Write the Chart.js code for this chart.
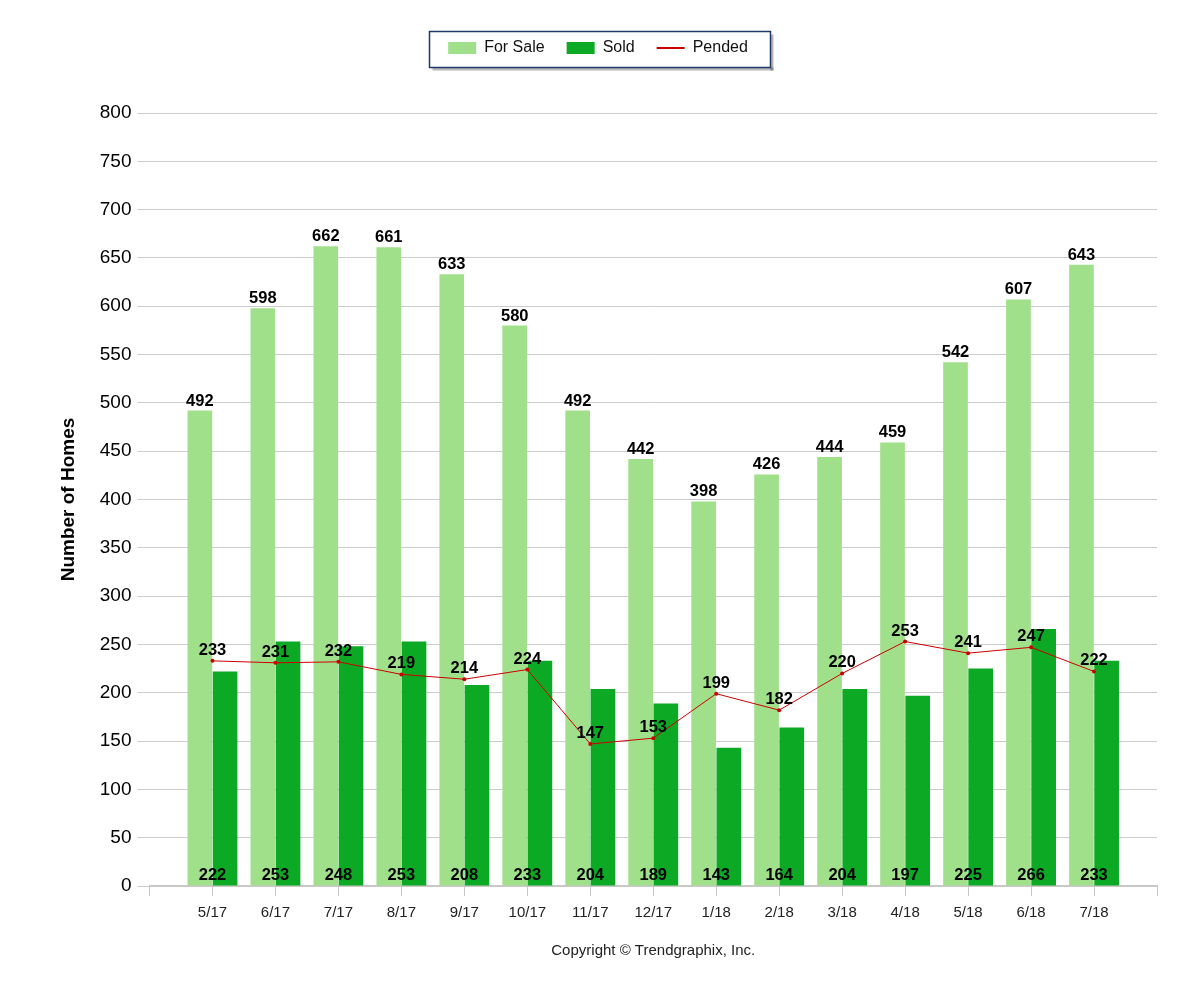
<!DOCTYPE html>
<html>
<head>
<meta charset="utf-8">
<script src="https://cdn.jsdelivr.net/npm/chart.js@4.4.0/dist/chart.umd.min.js"></script>
<style>
  html, body { margin: 0; background: #fff; }
  #contenedor { width: 1200px; height: 1000px; }
</style>
</head>
<body>
<div id="contenedor"><canvas id="grafico-homes" width="1200" height="1000"></canvas></div>
<script>
// datos
const meses      = ["5/17", "6/17", "7/17", "8/17", "9/17", "10/17", "11/17", "12/17", "1/18", "2/18", "3/18", "4/18", "5/18", "6/18", "7/18"];
const enVenta    = [492, 598, 662, 661, 633, 580, 492, 442, 398, 426, 444, 459, 542, 607, 643];
const vendidas   = [222, 253, 248, 253, 208, 233, 204, 189, 143, 164, 204, 197, 225, 266, 233];
const pendientes = [233, 231, 232, 219, 214, 224, 147, 153, 199, 182, 220, 253, 241, 247, 222];
const ejeY       = { min: 0, max: 800, paso: 50 };

const FUENTE = '"Liberation Sans", Arial, sans-serif';
Chart.defaults.font.family = FUENTE;

// hueco vacio al inicio y al final del eje (como en el original)
const rellenar = arr => [null, ...arr, null];

// valores encima de barras y puntos
const etiquetasValores = {
  id: "etiquetasValores",
  afterDatasetsDraw(chart) {
    const ctx = chart.ctx;
    const x   = chart.scales.x;
    ctx.save();
    ctx.font = `bold 16.5px ${FUENTE}`;
    ctx.fillStyle = "#000";
    ctx.textAlign = "center";
    ctx.textBaseline = "alphabetic";
    chart.data.datasets.forEach((ds, i) => {
      const meta = chart.getDatasetMeta(i);
      meta.data.forEach((el, j) => {
        const v = ds.data[j];
        if (v === null || v === undefined) return;
        if (ds.label === "Sold")      ctx.fillText(v, x.getPixelForValue(j), el.base - 6);
        else if (ds.type === "line")  ctx.fillText(v, el.x, el.y - 6);
        else                          ctx.fillText(v, el.x, el.y - 5);
      });
    });
    ctx.restore();
  }
};

// marco con sombra alrededor de la leyenda (y leyenda un poco a la izquierda)
const marcoLeyenda = {
  id: "marcoLeyenda",
  afterLayout(chart) {
    chart.legend.left  -= 9;
    chart.legend.right -= 9;
  },
  afterDraw(chart) {
    const cajas = chart.legend && chart.legend.legendHitBoxes;
    if (!cajas || !cajas.length) return;
    const ult = cajas[cajas.length - 1];
    const x0 = Math.round(cajas[0].left - 19) + 0.5;
    const x1 = Math.round(ult.left + ult.width + 22) + 0.5;
    const y0 = Math.round(cajas[0].top - 9) + 0.5;
    const y1 = Math.round(cajas[0].top + cajas[0].height + 11) + 0.5;
    const ctx = chart.ctx;
    ctx.save();
    ctx.fillStyle = "rgba(0,0,0,0.28)";
    ctx.fillRect(x1, y0 + 3, 3, y1 - y0);
    ctx.fillRect(x0 + 3, y1, x1 - x0, 3);
    ctx.strokeStyle = "#1f3a68";
    ctx.lineWidth = 1.5;
    ctx.strokeRect(x0, y0, x1 - x0, y1 - y0);
    ctx.restore();
  }
};

const ctx = document.getElementById("grafico-homes").getContext("2d");
const graficoInstancia = new Chart(ctx, {
  type: "bar",
  data: {
    labels: ["", ...meses, ""],
    datasets: [
      {
        label: "For Sale",
        data: rellenar(enVenta),
        backgroundColor: "#a1e08b",
        order: 1
      },
      {
        label: "Sold",
        data: rellenar(vendidas),
        backgroundColor: "#0caa24",
        order: 1
      },
      {
        type: "line",
        label: "Pended",
        data: rellenar(pendientes),
        borderColor: "#cc0000",
        backgroundColor: "#cc0000",
        borderWidth: 1,
        pointRadius: 2,
        pointBackgroundColor: "#cc0000",
        pointBorderWidth: 0,
        tension: 0,
        order: -1
      }
    ]
  },
  options: {
    responsive: false,
    animation: false,
    categoryPercentage: 0.8,
    barPercentage: 0.98,
    layout: { padding: { top: 18, left: 57, right: 43, bottom: 36 } },
    plugins: {
      tooltip: { enabled: false },
      legend: {
        position: "top",
        weight: 3000,
        labels: {
          color: "#111",
          font: { size: 16 },
          padding: 22,
          usePointStyle: true,
          pointStyleWidth: 28,
          boxHeight: 12,
          sort: (a, b) => a.datasetIndex - b.datasetIndex,
          generateLabels(chart) {
            const base = Chart.defaults.plugins.legend.labels.generateLabels(chart);
            return base.map(it => {
              const esLinea = it.datasetIndex === 2;
              it.pointStyle = esLinea ? "line" : "rect";
              it.lineWidth = esLinea ? 2 : 0;
              return it;
            });
          }
        }
      },
      // titulo vacio: solo separa la leyenda del area del grafico
      title: {
        display: true,
        text: "",
        font: { size: 10 },
        padding: { top: 17, bottom: 18 }
      }
    },
    scales: {
      x: {
        offset: false,
        grid: {
          offset: false,
          drawOnChartArea: false,
          drawTicks: true,
          tickLength: 10,
          color: "#c8c8c8"
        },
        border: { display: true, color: "#c8c8c8", width: 2 },
        ticks: {
          color: "#222",
          font: { size: 15 },
          padding: 8,
          autoSkip: false,
          maxRotation: 0
        },
        title: {
          display: true,
          text: "Copyright © Trendgraphix, Inc.",
          color: "#222",
          font: { size: 15 },
          padding: { top: 12, bottom: 4 }
        }
      },
      y: {
        min: ejeY.min,
        max: ejeY.max,
        grid: { color: "#cccccc", tickLength: 12, drawTicks: true },
        border: { display: false },
        ticks: {
          stepSize: ejeY.paso,
          color: "#000",
          font: { size: 19 },
          padding: 6
        },
        title: {
          display: true,
          text: "Number of Homes",
          color: "#000",
          font: { size: 19, weight: "bold" },
          padding: { top: 0, bottom: 14 }
        }
      }
    }
  },
  plugins: [etiquetasValores, marcoLeyenda]
});
</script>
</body>
</html>
